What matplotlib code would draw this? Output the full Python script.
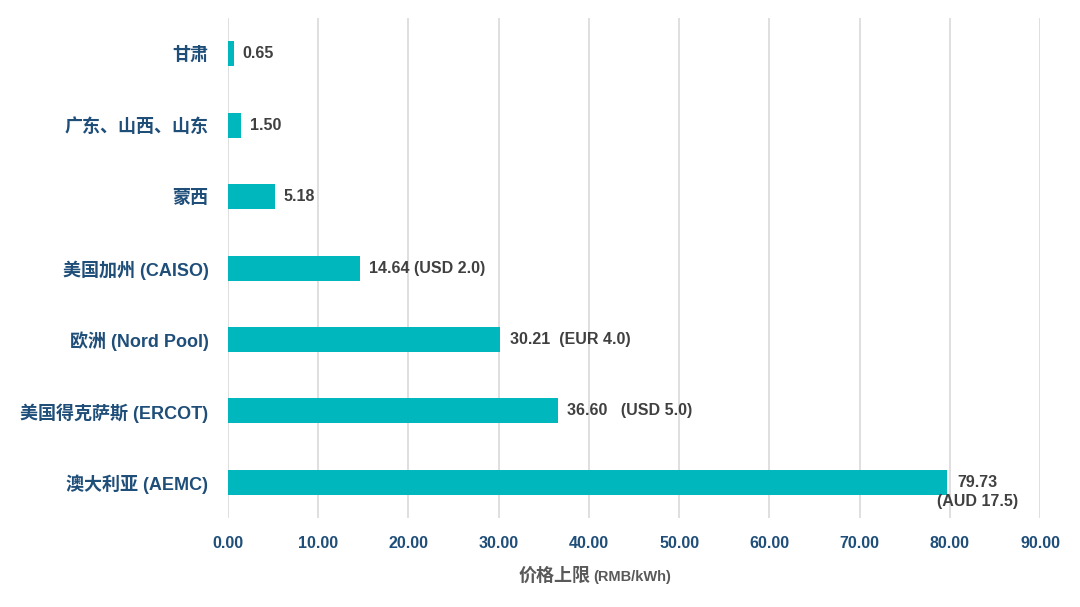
import matplotlib
matplotlib.use("Agg")
import matplotlib.pyplot as plt

categories = ["甘肃", "广东、山西、山东", "蒙西", "美国加州 (CAISO)", "欧洲 (Nord Pool)",
              "美国得克萨斯 (ERCOT)", "澳大利亚 (AEMC)"]
values = [0.65, 1.50, 5.18, 14.64, 30.21, 36.60, 79.73]
value_labels = ["0.65", "1.50", "5.18", "14.64 (USD 2.0)", "30.21  (EUR 4.0)",
                "36.60   (USD 5.0)", "79.73\n(AUD 17.5)"]
xticks = [0, 10, 20, 30, 40, 50, 60, 70, 80, 90]

plt.rcParams['font.family'] = ['Liberation Sans', 'Noto Sans CJK SC']

fig = plt.figure(figsize=(10.8, 6.07), dpi=100)
ax = fig.add_axes([0.211, 0.1466, 0.752, 0.8237])

ypos = list(range(len(categories)))
bar_color = "#00B7BE"
ax.barh(ypos, values, height=0.35, color=bar_color, zorder=3)

ax.set_xlim(0, 90)
ax.set_ylim(len(categories) - 0.5, -0.5)
ax.set_xticks(xticks)
ax.set_xticklabels([f"{v:.2f}" for v in xticks])
ax.set_yticks(ypos)
ax.set_yticklabels(categories)

tick_color = "#1F4E79"
for lab in ax.get_xticklabels():
    lab.set_fontweight("bold"); lab.set_color(tick_color); lab.set_fontsize(11.5)
for lab in ax.get_yticklabels():
    lab.set_fontweight("bold"); lab.set_color(tick_color); lab.set_fontsize(13)

ax.tick_params(axis="both", length=0)
ax.tick_params(axis="x", pad=13)
ax.tick_params(axis="y", pad=14)
ax.grid(axis="x", color="#D9D9D9", linewidth=1.2, zorder=0)
for s in ax.spines.values():
    s.set_visible(False)

lab_color = "#404040"
for i, (v, t) in enumerate(zip(values, value_labels)):
    if "\n" in t:
        ax.annotate(t, xy=(v, i), xytext=(22, 5), textcoords="offset points",
                    ha="center", va="top", fontsize=11.5, fontweight="bold",
                    color=lab_color, linespacing=1.3, multialignment="center")
    else:
        ax.annotate(t, xy=(v, i), xytext=(6.5, 0), textcoords="offset points",
                    ha="left", va="center", fontsize=11.5, fontweight="bold",
                    color=lab_color)

fig.text(0.547, 0.05, "价格上限", ha="right", va="center", fontsize=13,
         fontweight="bold", color="#595959")
fig.text(0.549, 0.05, "(RMB/kWh)", ha="left", va="center", fontsize=10.5,
         fontweight="bold", color="#595959")

fig.savefig("out.png", dpi=100, facecolor="white")
